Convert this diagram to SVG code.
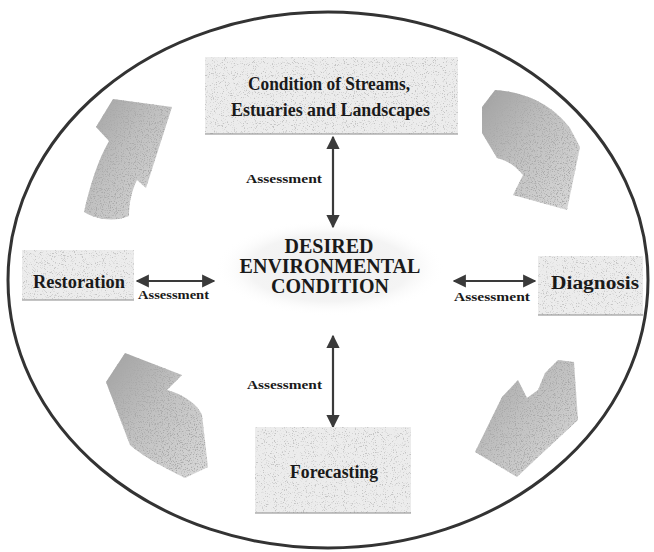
<svg xmlns="http://www.w3.org/2000/svg" width="654" height="552" viewBox="0 0 654 552">
<defs>
<style>
.lbl{font-family:"Liberation Serif","Times New Roman",serif;font-weight:bold;fill:#1a1a1a}
.box{fill:#ececec;filter:url(#grain)}
.edge{stroke:#8a8a8a;stroke-width:1.2;fill:none}
.conn{stroke:#3a3a3a;stroke-width:2.2;fill:none;marker-start:url(#ah);marker-end:url(#ah)}
.blk{fill:url(#bg);filter:url(#grain2)}
.asm{font-size:12.5px}
</style>
<marker id="ah" viewBox="0 0 10 10" refX="9" refY="5" markerWidth="6" markerHeight="6" markerUnits="strokeWidth" orient="auto-start-reverse">
<path d="M0,0 L10,5 L0,10 z" fill="#3a3a3a"/>
</marker>
<filter id="grain" x="0" y="0" width="1" height="1">
<feTurbulence type="fractalNoise" baseFrequency="0.9" numOctaves="2" seed="3" result="n"/>
<feColorMatrix in="n" type="matrix" values="0 0 0 0 0.55 0 0 0 0 0.55 0 0 0 0 0.55 0 0 0 6 -3.5" result="d"/>
<feComposite in="d" in2="SourceGraphic" operator="in" result="d2"/>
<feMerge><feMergeNode in="SourceGraphic"/><feMergeNode in="d2"/></feMerge>
</filter>
<filter id="grain2" x="0" y="0" width="1" height="1">
<feTurbulence type="fractalNoise" baseFrequency="0.85" numOctaves="2" seed="7" result="n"/>
<feColorMatrix in="n" type="matrix" values="0 0 0 0 0.4 0 0 0 0 0.4 0 0 0 0 0.4 0 0 0 5 -2.6" result="d"/>
<feComposite in="d" in2="SourceGraphic" operator="in" result="d2"/>
<feMerge><feMergeNode in="SourceGraphic"/><feMergeNode in="d2"/></feMerge>
</filter>
<linearGradient id="bg" x1="0" y1="0" x2="1" y2="1">
<stop offset="0" stop-color="#a0a0a0"/>
<stop offset="0.45" stop-color="#c0c0c0"/>
<stop offset="1" stop-color="#dadada"/>
</linearGradient>
<radialGradient id="glow">
<stop offset="0" stop-color="#eeeeee"/>
<stop offset="0.7" stop-color="#f4f4f4"/>
<stop offset="1" stop-color="#ffffff" stop-opacity="0"/>
</radialGradient>
</defs>
<rect width="654" height="552" fill="#ffffff"/>
<ellipse cx="328" cy="280" rx="320" ry="268" fill="none" stroke="#333333" stroke-width="3"/>

<g id="cycle-arrows">
<path class="blk" d="M84,212 C90,185 98,160 109,141 L96,127 L113,99 L172,107 L146,188 L137,180 C131,192 129,205 129,216 C115,222 97,220 84,212 Z"/>
<path class="blk" d="M482,133 L482,107 L495,90 C530,92 555,108 570,128 L580,147 L567,210 L513,195 L523,175 C515,165 505,160 497,158 Z"/>
<path class="blk" d="M558,360 L574,362 L578,420 L535,460 L517,477 L475,452 L502,397 L518,380 L527,398 L538,390 L545,373 Z"/>
<path class="blk" d="M125,353 L182,375 L167,390 C185,395 198,405 202,415 L208,467 L185,478 C165,468 145,458 130,445 L106,382 Z"/>
</g>

<ellipse cx="330" cy="268" rx="115" ry="48" fill="url(#glow)"/>

<g id="connectors">
<line class="conn" x1="333" y1="137" x2="333" y2="227"/>
<line class="conn" x1="333" y1="336" x2="333" y2="427"/>
<line class="conn" x1="137" y1="281" x2="214" y2="281"/>
<line class="conn" x1="454" y1="281" x2="535" y2="281"/>
<text class="lbl asm" x="246" y="183" textLength="76" lengthAdjust="spacingAndGlyphs">Assessment</text>
<text class="lbl asm" x="247" y="389" textLength="75" lengthAdjust="spacingAndGlyphs">Assessment</text>
<text class="lbl asm" x="138" y="299" textLength="71" lengthAdjust="spacingAndGlyphs">Assessment</text>
<text class="lbl asm" x="454" y="301" textLength="76" lengthAdjust="spacingAndGlyphs">Assessment</text>
</g>

<g id="center">
<text class="lbl" font-size="20" text-anchor="middle" x="329" y="253">DESIRED</text>
<text class="lbl" font-size="20" text-anchor="middle" x="330" y="273">ENVIRONMENTAL</text>
<text class="lbl" font-size="20" text-anchor="middle" x="330" y="293">CONDITION</text>
</g>

<g id="streams">
<rect class="box" x="205" y="57" width="253" height="77"/>
<line class="edge" x1="205" y1="134" x2="458" y2="134"/>
<text class="lbl" font-size="18" x="248" y="90" textLength="162" lengthAdjust="spacingAndGlyphs">Condition of Streams,</text>
<text class="lbl" font-size="18" x="231" y="116" textLength="199" lengthAdjust="spacingAndGlyphs">Estuaries and Landscapes</text>
</g>

<g id="restoration">
<rect class="box" x="22" y="250" width="112" height="50"/>
<line class="edge" x1="22" y1="300" x2="134" y2="300"/>
<text class="lbl" font-size="18" x="33" y="288" textLength="92" lengthAdjust="spacingAndGlyphs">Restoration</text>
</g>

<g id="diagnosis">
<rect class="box" x="538" y="256" width="105" height="59"/>
<line class="edge" x1="538" y1="315" x2="643" y2="315"/>
<text class="lbl" font-size="18" x="551" y="289" textLength="88" lengthAdjust="spacingAndGlyphs">Diagnosis</text>
</g>

<g id="forecasting">
<rect class="box" x="255" y="427" width="156" height="86"/>
<line class="edge" x1="255" y1="513" x2="411" y2="513"/>
<text class="lbl" font-size="18" x="290" y="478" textLength="88" lengthAdjust="spacingAndGlyphs">Forecasting</text>
</g>
</svg>
